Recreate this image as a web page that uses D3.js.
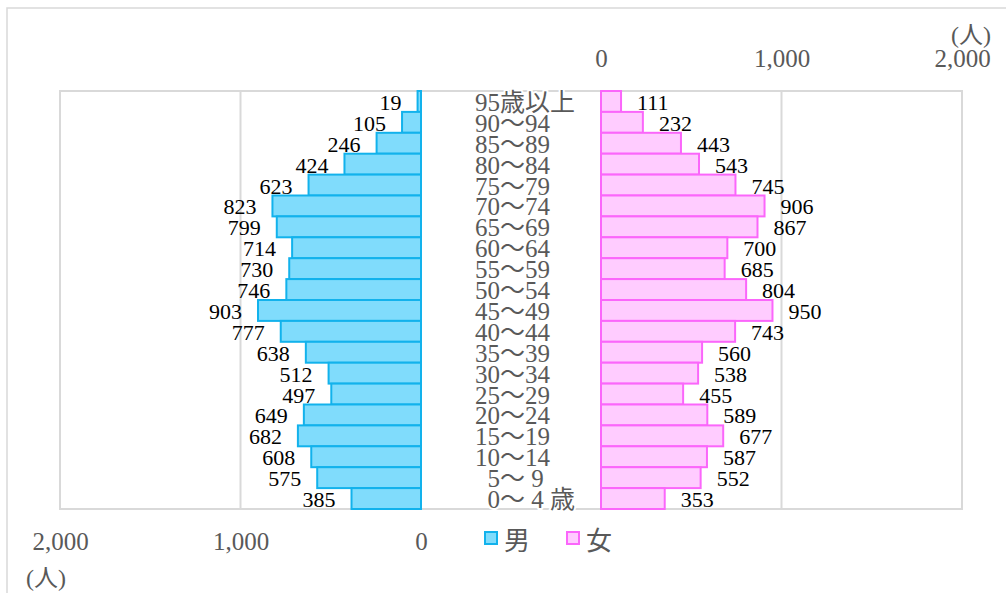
<!DOCTYPE html>
<html>
<head>
<meta charset="utf-8">
<script src="https://cdn.jsdelivr.net/npm/d3@7"></script>
<style>
  body { margin: 0; background: #fff; }
  svg { display: block; }
</style>
</head>
<body>
<div id="chart"></div>
<script>
// 年齢階級（上から下）
const ageGroups = ['95歳以上', '90〜94', '85〜89', '80〜84', '75〜79', '70〜74', '65〜69',
  '60〜64', '55〜59', '50〜54', '45〜49', '40〜44', '35〜39', '30〜34', '25〜29',
  '20〜24', '15〜19', '10〜14', '\u20075〜 9', '\u20070〜 4 歳']
const male = [19, 105, 246, 424, 623, 823, 799, 714, 730, 746, 903, 777, 638, 512, 497, 649, 682, 608, 575, 385]
const female = [111, 232, 443, 543, 745, 906, 867, 700, 685, 804, 950, 743, 560, 538, 455, 589, 677, 587, 552, 353]
const axisTicks = [0, 1000, 2000]
const unitLabel = '(人)'
const legendLabels = ['男', '女']

const width = 1006, height = 593
const serif = "'Liberation Serif', 'DejaVu Serif', 'Noto Sans CJK JP', serif"
const sans = "'Noto Sans CJK JP', sans-serif"
const maleFill = '#80dcfc', maleStroke = '#12b2ec'
const femaleFill = '#ffccff', femaleStroke = '#fb66fb'
const grey = '#d9d9d9', textGrey = '#595959'

const plot = { top: 91, bottom: 509, left: 60, right: 962 }

const xMale = d3.scaleLinear().domain([0, 2000]).range([421, plot.left])
const xFemale = d3.scaleLinear().domain([0, 2000]).range([601, plot.right])
const y = d3.scaleBand().domain(ageGroups).range([plot.top, plot.bottom]).padding(0)

const svg = d3.select('#chart').append('svg')
  .attr('width', width)
  .attr('height', height)

// 外枠
svg.append('rect')
  .attr('x', 7).attr('y', 8)
  .attr('width', 1010).attr('height', 600)
  .attr('fill', 'none').attr('stroke', grey).attr('stroke-width', 1.5)

// プロットエリア
svg.append('rect')
  .attr('x', plot.left).attr('y', plot.top)
  .attr('width', plot.right - plot.left).attr('height', plot.bottom - plot.top)
  .attr('fill', 'none').attr('stroke', grey).attr('stroke-width', 2)

// 目盛線
svg.append('g').selectAll('line')
  .data([xMale(1000), xFemale(1000)]).enter()
  .append('line')
  .attr('x1', d => d).attr('x2', d => d)
  .attr('y1', plot.top).attr('y2', plot.bottom)
  .attr('stroke', grey).attr('stroke-width', 2)

// 軸
const fmt = d3.format(',')
const topAxis = svg.append('g')
  .attr('transform', `translate(0, 67)`)
  .call(d3.axisTop(xFemale).tickValues(axisTicks).tickFormat(fmt).tickSize(0).tickPadding(0))
const bottomAxis = svg.append('g')
  .attr('transform', `translate(0, 532)`)
  .call(d3.axisBottom(xMale).tickValues(axisTicks).tickFormat(fmt).tickSize(0).tickPadding(0))
;[topAxis, bottomAxis].forEach(g => {
  g.select('.domain').remove()
  g.selectAll('text')
    .style('font-family', serif).style('font-size', '25px').attr('fill', textGrey)
})

svg.append('text')
  .attr('x', 991).attr('y', 43)
  .attr('text-anchor', 'end')
  .style('font-family', serif).style('font-size', '24px').attr('fill', textGrey)
  .text(unitLabel)
svg.append('text')
  .attr('x', 26).attr('y', 586)
  .attr('text-anchor', 'start')
  .style('font-family', serif).style('font-size', '24px').attr('fill', textGrey)
  .text(unitLabel)

// 男
svg.append('g').selectAll('rect')
  .data(male).enter()
  .append('rect')
  .attr('x', d => xMale(d))
  .attr('y', (d, i) => y(ageGroups[i]))
  .attr('width', d => xMale(0) - xMale(d))
  .attr('height', y.bandwidth())
  .attr('fill', maleFill).attr('stroke', maleStroke).attr('stroke-width', 2)

svg.append('g').selectAll('text')
  .data(male).enter()
  .append('text')
  .attr('x', d => xMale(d) - 16)
  .attr('y', (d, i) => y(ageGroups[i]) + y.bandwidth() / 2 + 1)
  .attr('text-anchor', 'end').attr('dominant-baseline', 'central')
  .style('font-family', serif).style('font-size', '22px').attr('fill', '#000')
  .text(d => d)

// 女
svg.append('g').selectAll('rect')
  .data(female).enter()
  .append('rect')
  .attr('x', xFemale(0))
  .attr('y', (d, i) => y(ageGroups[i]))
  .attr('width', d => xFemale(d) - xFemale(0))
  .attr('height', y.bandwidth())
  .attr('fill', femaleFill).attr('stroke', femaleStroke).attr('stroke-width', 2)

svg.append('g').selectAll('text')
  .data(female).enter()
  .append('text')
  .attr('x', d => xFemale(d) + 16)
  .attr('y', (d, i) => y(ageGroups[i]) + y.bandwidth() / 2 + 1)
  .attr('text-anchor', 'start').attr('dominant-baseline', 'central')
  .style('font-family', serif).style('font-size', '22px').attr('fill', '#000')
  .text(d => d)

// 年齢ラベル
svg.append('g').selectAll('text')
  .data(ageGroups).enter()
  .append('text')
  .attr('x', 475)
  .attr('y', d => y(d) + y.bandwidth() / 2 + 1)
  .attr('dominant-baseline', 'central')
  .style('font-family', serif).style('font-size', '25px')
  .style('white-space', 'pre')
  .attr('fill', textGrey)
  .attr('stroke', '#fff').attr('stroke-width', 4).attr('paint-order', 'stroke')
  .attr('stroke-linejoin', 'round')
  .text(d => d)

// 凡例
const legend = svg.append('g').selectAll('g')
  .data(legendLabels).enter()
  .append('g')
  .attr('transform', (d, i) => `translate(${484 + i * 82}, 538)`)
legend.append('rect')
  .attr('x', 1).attr('y', -6).attr('width', 12).attr('height', 12)
  .attr('fill', (d, i) => i ? femaleFill : maleFill)
  .attr('stroke', (d, i) => i ? femaleStroke : maleStroke).attr('stroke-width', 2)
legend.append('text')
  .attr('x', 20).attr('y', 0)
  .attr('dominant-baseline', 'central')
  .style('font-family', sans).style('font-size', '26px').attr('fill', textGrey)
  .text(d => d)
</script>
</body>
</html>
